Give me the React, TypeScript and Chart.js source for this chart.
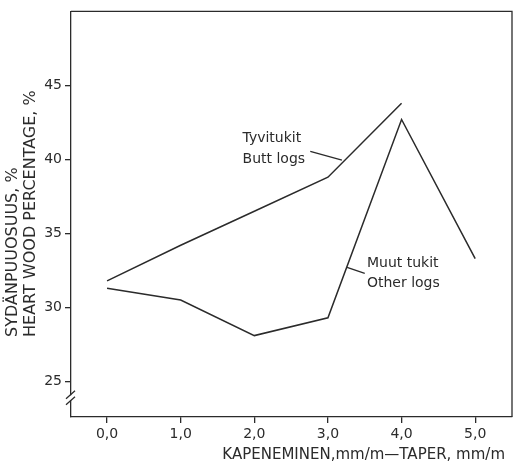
import React, { useEffect, useRef } from "react";
import { Chart, registerables } from "chart.js";

Chart.register(...registerables);

const buttTaper = [0, 1, 2, 3, 4];
const buttLogs = [31.8, 34.2, 36.5, 38.8, 43.8];
const otherTaper = [0, 1, 2, 3, 4, 5];
const otherLogs = [31.3, 30.5, 28.1, 29.3, 42.7, 33.3];
const xTicks = [0, 1, 2, 3, 4, 5];
const yTicks = [25, 30, 35, 40, 45];

const xTitle = "KAPENEMINEN,mm/m\u2014TAPER, mm/m";
const yTitle1 = "SYD\u00c4NPUUOSUUS, %";
const yTitle2 = "HEART WOOD PERCENTAGE, %";

const buttLabel = ["Tyvitukit", "Butt logs"];
const otherLabel = ["Muut tukit", "Other logs"];

const INK = "#2b2b2b";
const FONT = "'DejaVu Sans', sans-serif";

const decorations = {
  id: "decorations",
  afterDraw(chart: any) {
    const { ctx, chartArea, scales } = chart;
    const xs = scales.x;
    const ys = scales.y;
    ctx.save();
    ctx.strokeStyle = INK;
    ctx.lineWidth = 1.3;
    // top & right frame
    ctx.beginPath();
    ctx.moveTo(chartArea.left, chartArea.top);
    ctx.lineTo(chartArea.right, chartArea.top);
    ctx.lineTo(chartArea.right, chartArea.bottom);
    ctx.stroke();

    // axis break
    const by = ys.getPixelForValue(23.9);
    const lx = chartArea.left;
    ctx.fillStyle = "#fff";
    ctx.fillRect(lx - 2, by - 2.5, 4, 5);
    ctx.beginPath();
    ctx.moveTo(lx - 5, by + 1);
    ctx.lineTo(lx + 4, by - 7);
    ctx.moveTo(lx - 5, by + 7);
    ctx.lineTo(lx + 4, by - 1);
    ctx.stroke();

    ctx.fillStyle = INK;
    ctx.textBaseline = "middle";

    // annotations
    ctx.font = `14px ${FONT}`;
    ctx.textAlign = "left";
    const bx = xs.getPixelForValue(1.84);
    const byl = ys.getPixelForValue(41.4);
    ctx.fillText(buttLabel[0], bx, byl);
    ctx.fillText(buttLabel[1], bx, byl + 21);
    ctx.beginPath();
    ctx.moveTo(xs.getPixelForValue(2.76), ys.getPixelForValue(40.55));
    ctx.lineTo(xs.getPixelForValue(3.19), ys.getPixelForValue(39.95));
    ctx.stroke();

    const ox = xs.getPixelForValue(3.53);
    const oy = ys.getPixelForValue(32.95);
    ctx.fillText(otherLabel[0], ox, oy);
    ctx.fillText(otherLabel[1], ox, oy + 20);
    ctx.beginPath();
    ctx.moveTo(xs.getPixelForValue(3.26), ys.getPixelForValue(32.7));
    ctx.lineTo(xs.getPixelForValue(3.5), ys.getPixelForValue(32.3));
    ctx.stroke();

    // x title
    ctx.font = `15px ${FONT}`;
    ctx.textAlign = "right";
    ctx.fillText(xTitle, 505, 455);

    // y titles
    ctx.save();
    ctx.translate(0, 337);
    ctx.rotate(-Math.PI / 2);
    ctx.textAlign = "left";
    ctx.font = `16px ${FONT}`;
    ctx.fillText(yTitle1, 0, 13);
    ctx.fillText(yTitle2, 0, 31);
    ctx.restore();

    ctx.restore();
  },
};

export default function App() {
  const ref = useRef<HTMLCanvasElement>(null);
  useEffect(() => {
    if (!ref.current) return;
    const chart = new Chart(ref.current, {
      type: "line",
      data: {
        datasets: [
          {
            label: "Butt logs",
            data: buttTaper.map((x, i) => ({ x, y: buttLogs[i] })),
            borderColor: INK,
            borderWidth: 1.5,
            pointRadius: 0,
            tension: 0,
            fill: false,
          },
          {
            label: "Other logs",
            data: otherTaper.map((x, i) => ({ x, y: otherLogs[i] })),
            borderColor: INK,
            borderWidth: 1.5,
            pointRadius: 0,
            tension: 0,
            fill: false,
          },
        ],
      },
      plugins: [decorations],
      options: {
        animation: false,
        responsive: false,
        layout: { padding: { top: 8, right: 1, left: 0, bottom: 0 } },
        plugins: { legend: { display: false }, tooltip: { enabled: false } },
        scales: {
          x: {
            type: "linear",
            min: -0.49,
            max: 5.5,
            afterBuildTicks: (s: any) => {
              s.ticks = xTicks.map((v) => ({ value: v }));
            },
            afterFit: (s: any) => {
              s.height = 46;
            },
            ticks: {
              callback: (v: any) => Number(v).toFixed(1).replace(".", ","),
              color: INK,
              font: { family: FONT, size: 14 },
              padding: 3,
              maxRotation: 0,
            },
            grid: { drawOnChartArea: false, drawTicks: true, tickLength: 6, color: INK, lineWidth: 1.3 },
            border: { display: true, color: INK, width: 1.3 },
          },
          y: {
            type: "linear",
            min: 22.6,
            max: 50,
            afterBuildTicks: (s: any) => {
              s.ticks = yTicks.map((v) => ({ value: v }));
            },
            afterFit: (s: any) => {
              s.width = 71;
            },
            ticks: {
              callback: (v: any) => String(v),
              color: INK,
              font: { family: FONT, size: 14 },
              padding: 3,
            },
            grid: { drawOnChartArea: false, drawTicks: true, tickLength: 6, color: INK, lineWidth: 1.3 },
            border: { display: true, color: INK, width: 1.3 },
          },
        },
      },
    } as any);
    return () => chart.destroy();
  }, []);
  return (
    <div style={{ position: "absolute", left: 0, top: 0, width: 513, height: 463, background: "#fff" }}>
      <canvas ref={ref} width={513} height={463} style={{ display: "block" }} />
    </div>
  );
}
